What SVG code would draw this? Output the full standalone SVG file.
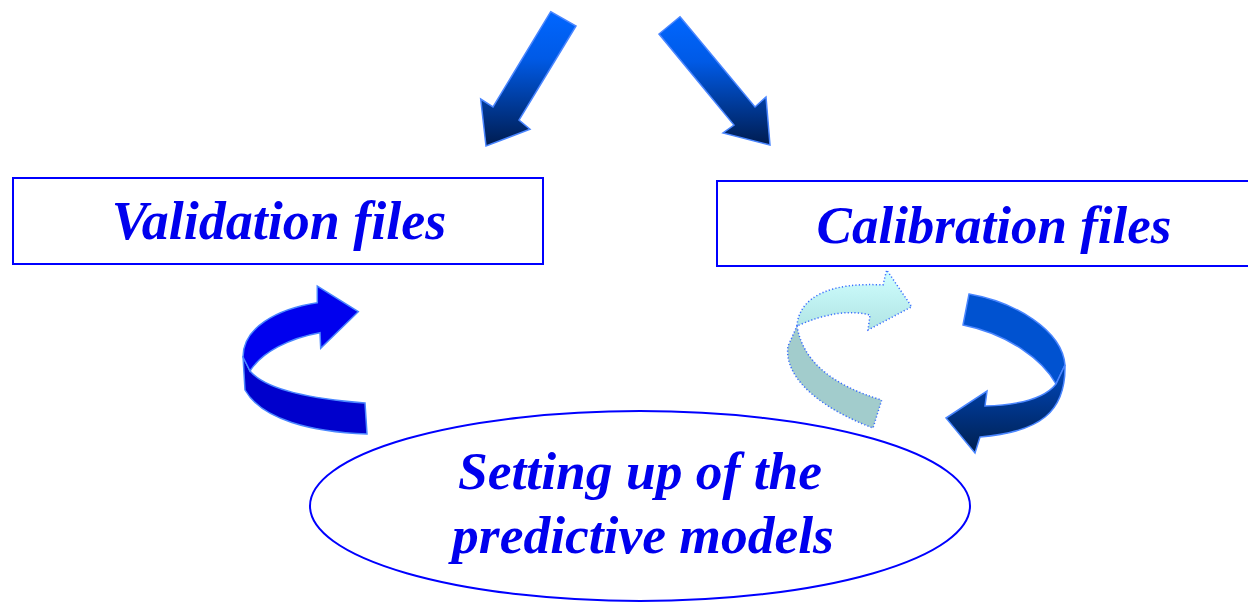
<svg xmlns="http://www.w3.org/2000/svg" width="1248" height="604" viewBox="0 0 1248 604">
<defs>
<linearGradient id="gDown" x1="0" y1="0" x2="0" y2="1">
<stop offset="0" stop-color="#0066ff"/>
<stop offset="0.35" stop-color="#005ae6"/>
<stop offset="1" stop-color="#001c50"/>
</linearGradient>
<linearGradient id="gRightLow" x1="0" y1="0" x2="0" y2="1">
<stop offset="0" stop-color="#0048c0"/>
<stop offset="1" stop-color="#00204f"/>
</linearGradient>
<linearGradient id="gPale" x1="0" y1="0" x2="0" y2="1">
<stop offset="0" stop-color="#d0ffff"/>
<stop offset="1" stop-color="#b0e4e4"/>
</linearGradient>
<style>
.node rect { fill: #ffffff; stroke: #0000ff; stroke-width: 2; }
.node ellipse { fill: none; stroke: #0000ff; stroke-width: 2; }
.label { font-family: "Liberation Serif", "Times New Roman", serif; font-weight: bold; font-style: italic; font-size: 53.5px; fill: #0000ee; text-anchor: middle; }
.solid { stroke: #4a86ff; stroke-width: 1.5; stroke-linejoin: miter; }
.dotted { stroke: #3a6cff; stroke-width: 1.5; stroke-dasharray: 1.2 2.2; stroke-linejoin: miter; }
</style>
</defs>

<g id="node-validation" class="node">
<rect x="13" y="178" width="530" height="86"/>
<text class="label" x="279" y="239" style="font-size:54px">Validation files</text>
</g>

<g id="node-calibration" class="node">
<rect x="717" y="181" width="545" height="85"/>
<text class="label" x="994" y="243" style="font-size:53px">Calibration files</text>
</g>

<g id="connectors">
<!-- top down arrows -->
<path class="solid" fill="url(#gDown)" d="M550.7,11.7 L576,26 L519,120 L530,129.3 L486,146 L480.7,99 L493,107 Z"/>
<path class="solid" fill="url(#gDown)" d="M680,16.7 L755,107 L766,97 L770,145 L723,133 L734,125 L659,34 Z"/>

<!-- left curved arrow (validation loop) -->
<path class="solid" fill="#0000cc" d="M243,356 L245,390 C262,420 312,432 367,434 L365,403 C312,399 266,390 250,371 Z"/>
<path class="solid" fill="#0000ee" d="M317.3,302.7 C276,309 243,328 243,357 L250,371 C262,352 290,338 320,332.7 L320.7,348.3 L358.3,311.7 L317.3,286 Z"/>

<!-- pale dotted curved arrow -->
<path class="dotted" fill="#a2cccc" d="M797,326 Q805,377 881.7,400 L873,428 C830,412 783,382 788,346 L797,326 Z"/>
<path class="dotted" fill="url(#gPale)" d="M797,326 C799,296 832,282 883,285 L886.7,270 L911.7,306.7 L868,330 L870,315 Q839,307 797,326 Z"/>

<!-- right dark curved arrow -->
<path class="solid" fill="#0052d0" d="M969,294 C1015,302 1062,330 1065,365 L1056,384 C1043,360 1008,334 963,325 Z"/>
<path class="solid" fill="url(#gRightLow)" d="M1065,365 C1066,412 1040,432 980,437 L975,453 L946,418 L987,391 L985,406 C1020,405 1045,398 1056,384 Z"/>
</g>

<g id="node-models" class="node">
<ellipse cx="640" cy="506" rx="330" ry="95"/>
<text class="label" x="640" y="489">Setting up of the</text>
<text class="label" x="643" y="553">predictive models</text>
</g>
</svg>
